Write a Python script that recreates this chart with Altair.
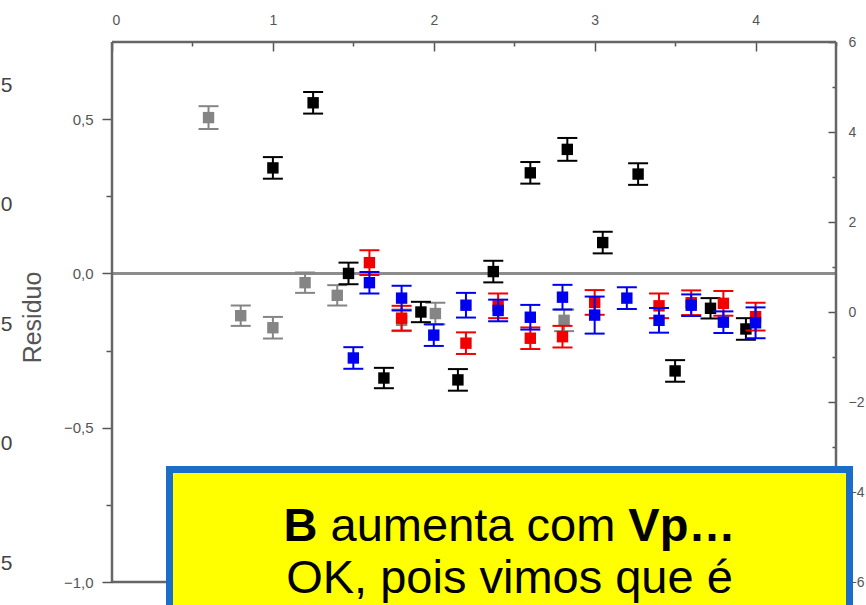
import altair as alt
import pandas as pd

# ---------------- data ----------------
gray_x = [0.60, 0.80, 1.00, 1.20, 1.40, 1.80, 2.01, 2.81]
gray_y = [0.505, -0.137, -0.176, -0.030, -0.071, -0.152, -0.130, -0.152]
gray_e = [0.037, 0.033, 0.035, 0.033, 0.033, 0.035, 0.035, 0.035]

black_x = [1.00, 1.25, 1.47, 1.69, 1.92, 2.15, 2.37, 2.60, 2.83, 3.05, 3.27, 3.50, 3.72, 3.94]
black_y = [0.342, 0.553, 0.000, -0.339, -0.125, -0.345, 0.006, 0.326, 0.402, 0.100, 0.322, -0.316, -0.113, -0.180]
black_e = [0.035, 0.035, 0.035, 0.033, 0.033, 0.035, 0.035, 0.035, 0.037, 0.035, 0.035, 0.035, 0.033, 0.035]

red_x = [1.60, 1.80, 2.20, 2.40, 2.60, 2.80, 3.00, 3.40, 3.60, 3.80, 4.00]
red_y = [0.035, -0.145, -0.226, -0.105, -0.210, -0.205, -0.094, -0.105, -0.095, -0.097, -0.140]
red_e = [0.040, 0.040, 0.035, 0.040, 0.035, 0.035, 0.040, 0.040, 0.040, 0.040, 0.045]

blue_x = [1.50, 1.60, 1.80, 2.00, 2.20, 2.40, 2.60, 2.80, 3.00, 3.20, 3.40, 3.60, 3.80, 4.00]
blue_y = [-0.274, -0.030, -0.080, -0.200, -0.103, -0.120, -0.142, -0.077, -0.135, -0.080, -0.152, -0.103, -0.158, -0.160]
blue_e = [0.035, 0.035, 0.040, 0.035, 0.040, 0.035, 0.040, 0.040, 0.060, 0.035, 0.040, 0.035, 0.035, 0.050]

series_colors = ["#858585", "#000000", "#f00000", "#0000f0"]

zero_line = [0.0]

top_major_ticks = [0, 1, 2, 3, 4]
top_minor_ticks = [0.5, 1.5, 2.5, 3.5, 4.5]
left_major_ticks = [-1.0, -0.5, 0.0, 0.5]
left_minor_ticks = [-0.75, -0.25, 0.25]
right_major_ticks = [-6, -4, -2, 0, 2, 4, 6]
right_minor_ticks = [-5, -3, -1, 1, 3, 5]
outer_ticks = [-0.5, 0.0, 0.5, 1.0, 1.5]

y_title = "Residuo"
note_bold_a = "B"
note_regular = "aumenta com"
note_bold_b = "Vp…"
note_line2 = "OK, pois vimos que é"

# ---------------- layout / style ----------------
W, H = 724, 540
FONT = "Liberation Sans"
AXC = "#555555"
FRAME = "#666666"
FS = 47

X_SCALE = alt.Scale(domain=[0, 4.5], nice=False, zero=False)
Y_SCALE = alt.Scale(domain=[-1.0, 0.75], nice=False, zero=False)
R_SCALE = alt.Scale(domain=[-6, 6], nice=False, zero=False)
O_SCALE = alt.Scale(domain=[-0.579, 1.68], nice=False, zero=False)

common = dict(grid=False, domain=False, labelFont=FONT, labelColor=AXC,
              tickColor=AXC, tickWidth=1.5)

x_axis_major = alt.Axis(orient="top", values=top_major_ticks, format="d", tickSize=9,
                        offset=-9, labelFontSize=14, labelPadding=15, title=None, **common)
x_axis_minor = alt.Axis(orient="top", values=top_minor_ticks, tickSize=4, offset=-4,
                        labels=False, title=None, **common)
y_axis_major = alt.Axis(orient="left", values=left_major_ticks,
                        labelExpr="replace(format(datum.value, '.1f'), '.', ',')",
                        tickSize=10, labelFontSize=15, labelPadding=9,
                        title=y_title, titleX=-80, titleY=275, titleAngle=270,
                        titleAlign="center", titleBaseline="middle", titleFontSize=25,
                        titleFontWeight="normal", titleFont=FONT, titleColor=AXC, **common)
y_axis_minor = alt.Axis(orient="left", values=left_minor_ticks, tickSize=6,
                        labels=False, title=None, **common)
r_axis_major = alt.Axis(orient="right", values=right_major_ticks, tickSize=8, offset=-8,
                        labelFontSize=14, labelPadding=12, title=None, **common)
r_axis_minor = alt.Axis(orient="right", values=right_minor_ticks, tickSize=4, offset=-4,
                        labels=False, title=None, **common)
# the neighbouring panel's axis on the far left: only its last character shows
o_axis = alt.Axis(orient="left", values=outer_ticks, ticks=False, tickSize=0, offset=100,
                  labelExpr="slice(replace(format(datum.value, '.1f'), '.', ','), -1)",
                  labelFontSize=21, labelPadding=0, labelColor="#444444", title=None,
                  grid=False, domain=False, labelFont=FONT)


def X(field="x"):
    return alt.X(f"{field}:Q", scale=X_SCALE, axis=x_axis_major)


def Y(field):
    return alt.Y(f"{field}:Q", scale=Y_SCALE, axis=y_axis_major)


def series_layers(xs, ys, es, color):
    d = pd.DataFrame({"x": xs, "y": ys, "err": es})
    base = alt.Chart(d).transform_calculate(lo="datum.y - datum.err", hi="datum.y + datum.err")
    bar = base.mark_rule(color=color, strokeWidth=2).encode(x=X(), y=Y("lo"), y2=alt.Y2("hi:Q"))
    cap_hi = base.mark_tick(color=color, thickness=2, size=20, orient="horizontal", opacity=1).encode(x=X(), y=Y("hi"))
    cap_lo = base.mark_tick(color=color, thickness=2, size=20, orient="horizontal", opacity=1).encode(x=X(), y=Y("lo"))
    pt = base.mark_square(size=130, color=color, opacity=1, filled=True).encode(x=X(), y=Y("y"))
    return [bar, cap_hi, cap_lo, pt]


zero = alt.Chart(pd.DataFrame({"y": zero_line})).mark_rule(color="#8c8c8c", strokeWidth=3).encode(y=Y("y"))

one = pd.DataFrame({"k": [0]})
frame = [
    alt.Chart(one).mark_rule(color=FRAME, strokeWidth=2.5).encode(x=alt.value(0), x2=alt.value(W), y=alt.value(0)),
    alt.Chart(one).mark_rule(color=FRAME, strokeWidth=2.5).encode(x=alt.value(0), x2=alt.value(W), y=alt.value(H)),
    alt.Chart(one).mark_rule(color=FRAME, strokeWidth=2.5).encode(x=alt.value(0), y=alt.value(0), y2=alt.value(H)),
    alt.Chart(one).mark_rule(color=FRAME, strokeWidth=2.5).encode(x=alt.value(W), y=alt.value(0), y2=alt.value(H)),
]

layers = [zero]
for xs, ys, es, c in [(gray_x, gray_y, gray_e, series_colors[0]),
                      (black_x, black_y, black_e, series_colors[1]),
                      (red_x, red_y, red_e, series_colors[2]),
                      (blue_x, blue_y, blue_e, series_colors[3])]:
    layers += series_layers(xs, ys, es, c)
layers += frame
main = alt.layer(*layers)

minor = alt.Chart(pd.DataFrame({"x": [0.5], "y": [0.0]})).mark_point(opacity=0).encode(
    x=alt.X("x:Q", scale=X_SCALE, axis=x_axis_minor),
    y=alt.Y("y:Q", scale=Y_SCALE, axis=y_axis_minor))

right_major = alt.Chart(pd.DataFrame({"r": [0]})).mark_point(opacity=0).encode(
    y=alt.Y("r:Q", scale=R_SCALE, axis=r_axis_major))
right_minor = alt.Chart(pd.DataFrame({"r": [0]})).mark_point(opacity=0).encode(
    y=alt.Y("r:Q", scale=R_SCALE, axis=r_axis_minor))
outer = alt.Chart(pd.DataFrame({"o": [0.5]})).mark_point(opacity=0).encode(
    y=alt.Y("o:Q", scale=O_SCALE, axis=o_axis))

# text widths (Arial metrics) to centre the mixed-weight first line in the box
w_b = 0.722 * FS
w_sp = 0.278 * FS
w_mid = 6.058 * FS
w_vp = 2.278 * FS
total = w_b + w_sp + w_mid + w_sp + w_vp
cx = 397.5
x_b = cx - total / 2
x_mid = x_b + w_b + w_sp
x_vp = x_mid + w_mid + w_sp

box = alt.Chart(one).mark_rect(fill="#ffff00", stroke="#1c6dc8", strokeWidth=7).encode(
    x=alt.value(57.5), x2=alt.value(737.5), y=alt.value(427.5), y2=alt.value(700))
t1 = alt.Chart(one).mark_text(font=FONT, fontSize=FS, fontWeight="bold", align="left",
                              baseline="alphabetic", color="#000000").encode(
    x=alt.value(x_b), y=alt.value(499), text=alt.value(note_bold_a))
t2 = alt.Chart(one).mark_text(font=FONT, fontSize=FS, fontWeight="normal", align="left",
                              baseline="alphabetic", color="#000000").encode(
    x=alt.value(x_mid), y=alt.value(499), text=alt.value(note_regular))
t3 = alt.Chart(one).mark_text(font=FONT, fontSize=FS, fontWeight="bold", align="left",
                              baseline="alphabetic", color="#000000").encode(
    x=alt.value(x_vp), y=alt.value(499), text=alt.value(note_bold_b))
t4 = alt.Chart(one).mark_text(font=FONT, fontSize=FS, fontWeight="normal", align="center",
                              baseline="alphabetic", color="#000000").encode(
    x=alt.value(cx), y=alt.value(551), text=alt.value(note_line2))
overlay = alt.layer(box, t1, t2, t3, t4)

chart = alt.layer(main, minor, right_major, right_minor, outer, overlay).resolve_scale(
    y="independent").resolve_axis(x="independent", y="independent").properties(
    width=W, height=H,
    padding={"left": 112, "top": 42, "right": 30, "bottom": 23},
    autosize=alt.AutoSizeParams(type="none"),
    background="white",
).configure_view(stroke="transparent")

chart.save("out.html", embed_options={"renderer": "svg", "actions": False})
